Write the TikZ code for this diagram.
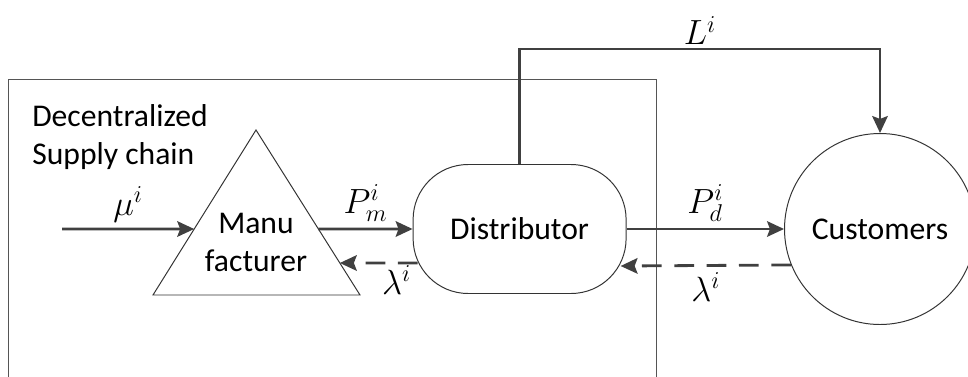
\documentclass[tikz,border=0pt]{standalone}
\usepackage{fontspec}
\setmainfont{Carlito}
\usetikzlibrary{arrows.meta,positioning,calc}
\definecolor{flowc}{HTML}{404040}
\definecolor{edgec}{HTML}{333333}
\definecolor{framec}{HTML}{555555}
\tikzset{
  flow/.style={-{Stealth[length=12pt, width=11pt, inset=2pt]}, line width=2pt, flowc},
  back/.style={flow, dash pattern=on 14pt off 9pt},
  shapeline/.style={draw=edgec, line width=0.7pt},
  lab/.style={font=\fontsize{22.5}{27}\selectfont, inner sep=0pt},
  mlab/.style={font=\fontsize{27}{30}\selectfont, inner sep=4pt, text=black},
}

\begin{document}
\begin{tikzpicture}[x=1cm,y=1cm]
\clip (0,0) rectangle (24.2,9.4);

% ===================== frame of the decentralized chain =====================
\draw[framec, line width=0.7pt] (0.2,-1) -- (0.2,7.425) -- (16.4,7.425) -- (16.4,-1);
\node[lab, anchor=west, align=left] (title) at (0.8,5.975)
  {Decentralized\\Supply chain};

% ===================== manufacturer (triangle) ==============================
\coordinate (apex) at (6.4,6.15);
\coordinate (bl) at (3.825,2.025);
\coordinate (br) at (9.0,2.025);
\draw[shapeline] (apex) -- (bl) -- (br) -- cycle;
\node[lab, align=center] (mf) at (6.4,3.35) {Manu\\facturer};
\coordinate (mfin)   at ($(apex)!0.6!(bl)$);
\coordinate (mfout)  at ($(apex)!0.6!(br)$);
\coordinate (mfback) at ($(apex)!0.806!(br)$);
\coordinate (muin)   at (1.55,3.675);

% ===================== distributor and customers ============================
\node[shapeline, lab, rounded corners=1.375cm, minimum width=5.325cm,
      minimum height=3.225cm] (dist) at (12.99,3.675) {Distributor};
\node[shapeline, lab, circle, minimum size=4.775cm] (cust) at (22.0,3.675) {Customers};
\coordinate (Lrow) at (0,8.175);

% ===================== flows ================================================
\draw[flow] (muin) -- (mfin) node[midway, above, mlab] {$\mu^i$};
\draw[flow] (mfout) -- (dist.west) node[midway, above, mlab] {$P_m^i$};
\draw[back] ([shift={(0.125,-0.85)}]dist.west) -- (mfback)
  node[pos=0.27, below, mlab, inner sep=1pt] {$\lambda^i$};
\draw[flow] (dist.east) -- (cust.west) node[midway, above, mlab] {$P_d^i$};
\draw[back] (cust.202) -- ([shift={(-0.15,-0.925)}]dist.east)
  node[midway, below, mlab] {$\lambda^i$};
\draw[flow] (dist.north) -- (dist.north |- Lrow) -| (cust.north)
  node[pos=0.25, above, mlab, inner sep=2pt] {$L^i$};

\end{tikzpicture}
\end{document}
